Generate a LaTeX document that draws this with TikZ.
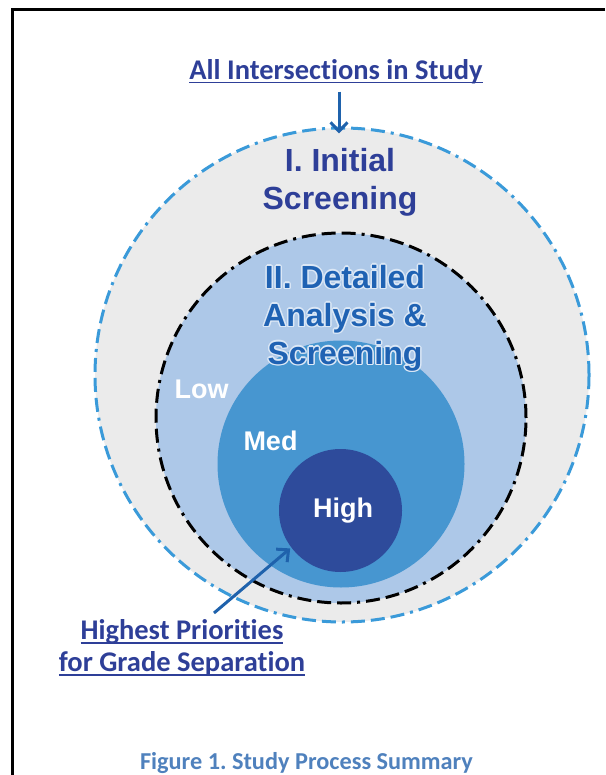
\documentclass[tikz,border=0pt]{standalone}
\usepackage{fontspec}
\usetikzlibrary{calc,arrows.meta}
\newfontfamily\calfont[Ligatures=NoCommon]{Carlito}
\newfontfamily\arfont{Liberation Sans}
\definecolor{navy}{HTML}{2E3F98}
\definecolor{ringblue}{HTML}{3A9AD9}
\definecolor{greybg}{HTML}{EBEBEB}
\definecolor{paleblue}{HTML}{ADC8E8}
\definecolor{midblue}{HTML}{4796D0}
\definecolor{deepblue}{HTML}{2E4B9B}
\definecolor{textblue}{HTML}{1F62B3}
\definecolor{arrowblue}{HTML}{1F62AC}
\definecolor{capblue}{HTML}{4F81BD}
\definecolor{glow}{HTML}{DCE8F6}
\newcommand{\ulin}[1]{\setbox0\hbox{#1}\rlap{\rule[-4pt]{\wd0}{1.8pt}}\box0}
\newcommand{\analtext}{II. Detailed\\Analysis \&\\Screening}
\tikzset{ring/.style={circle,inner sep=0pt,line width=3pt,dash pattern=on 14pt off 6pt on 14pt off 6pt on 14pt off 6pt on 3pt off 6pt},
  head/.style={font=\arfont\bfseries\fontsize{32}{38}\selectfont,align=center},
  lvl/.style={font=\arfont\bfseries\fontsize{27}{32}\selectfont,text=white,anchor=base},
  note/.style={font=\calfont\bfseries\fontsize{28.5}{32}\selectfont,text=navy,align=center},
  pointer/.style={arrowblue,line width=3pt,-{Straight Barb[length=9pt,width=17pt]}}}

\begin{document}
\frenchspacing
\begin{tikzpicture}[x=1pt,y=-1pt]
\useasboundingbox (0,0) rectangle (605,775);
\draw[line width=2.5pt] (605,9.5) -- (12.5,9.5) -- (12.5,775);
% nested screening levels
\node[ring,minimum size=494pt,fill=greybg,draw=ringblue] (outer) at (342,375) {};
\node[ring,minimum size=370pt,fill=paleblue,draw=black] (detail) at (341,418) {};
\node[ring,minimum size=247pt,fill=midblue,draw=none] (med) at (341,464) {};
\node[ring,minimum size=123pt,fill=deepblue,draw=none] (high) at (340.5,510.5) {};
% labels
\node[note,anchor=base] (study) at (336,79.5) {\ulin{All Intersections in Study}};
\node[head,text=navy] (init) at (340,182) {I. Initial\\Screening};
\foreach \a in {0,45,...,315}
  \node[head,text=glow] (glow\a) at ($(345,318)+(\a:1.5)$) {\analtext};
\node[head,text=textblue] (anal) at (345,318) {\analtext};
\node[lvl] (low) at (201.5,398) {Low};
\node[lvl] (mid) at (270.5,450) {Med};
\node[lvl] (top) at (343,517) {High};
\node[note] (prio) at (182,648) {\ulin{Highest Priorities}\\\ulin{for Grade Separation}};
\node[font=\calfont\bfseries\fontsize{24.3}{28}\selectfont,text=capblue,anchor=base] (cap) at (306.5,769) {Figure 1. Study Process Summary};
% pointers
\coordinate (tail) at (214,613);
\draw[pointer] ($(outer.north |- study.south)+(-3,4)$) -- ([xshift=-3pt,yshift=-7pt]outer.north);
\draw[pointer] (tail) -- (high.217);
\end{tikzpicture}
\end{document}
